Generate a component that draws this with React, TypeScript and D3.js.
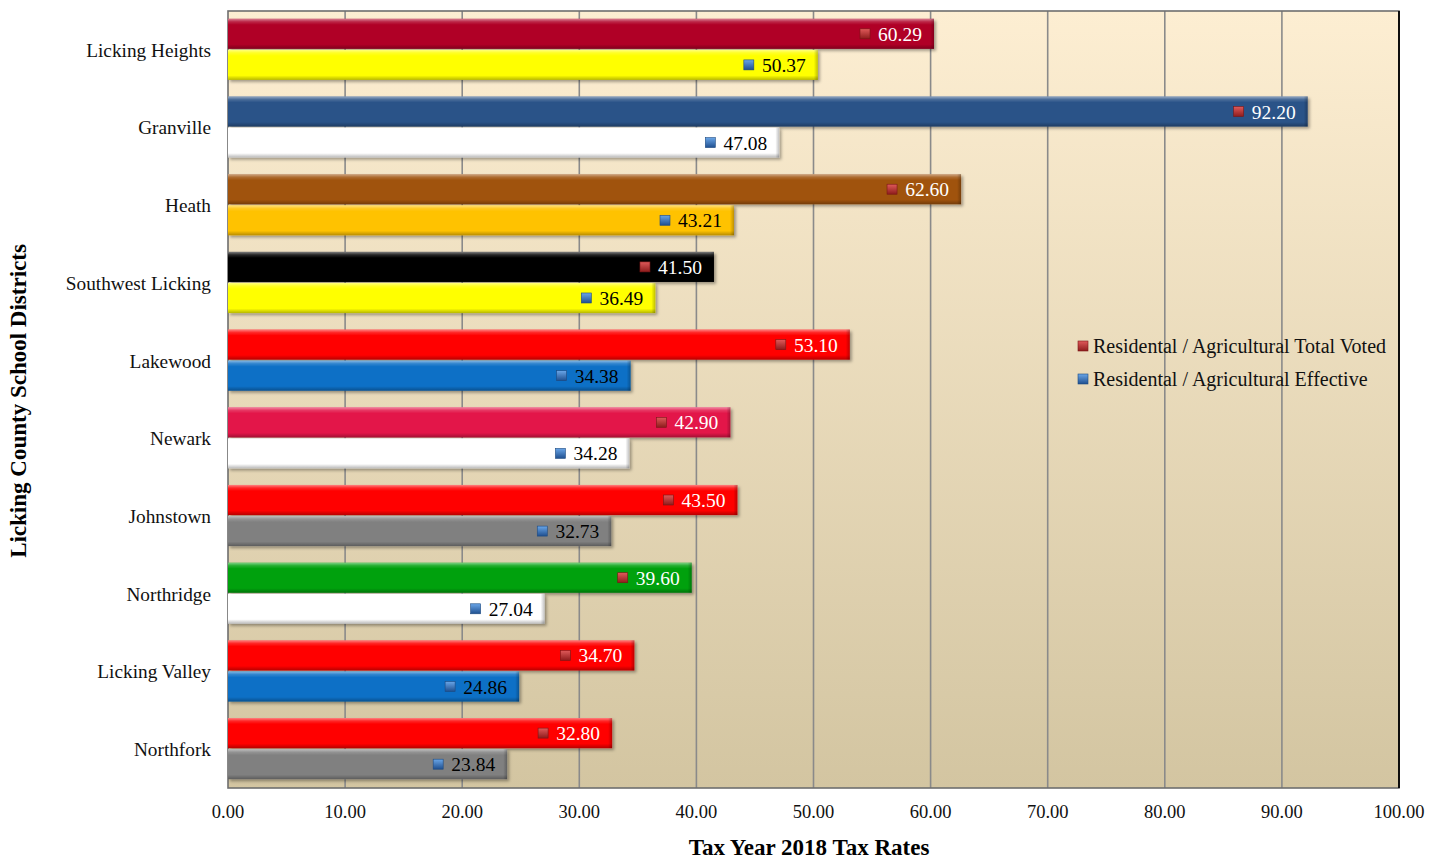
import * as d3 from 'd3'

const DISTRICTS = [
  'Licking Heights',
  'Granville',
  'Heath',
  'Southwest Licking',
  'Lakewood',
  'Newark',
  'Johnstown',
  'Northridge',
  'Licking Valley',
  'Northfork',
]
const TOTAL_VOTED = [60.29, 92.2, 62.6, 41.5, 53.1, 42.9, 43.5, 39.6, 34.7, 32.8]
const EFFECTIVE = [50.37, 47.08, 43.21, 36.49, 34.38, 34.28, 32.73, 27.04, 24.86, 23.84]
const VOTED_COLORS = [
  '#b00428', '#2a5288', '#a0520a', '#050505', '#ff0000',
  '#e3144a', '#ff0000', '#00a10f', '#ff0000', '#ff0000',
]
const EFFECTIVE_COLORS = [
  '#ffff00', '#ffffff', '#ffc200', '#ffff00', '#0a70c6',
  '#ffffff', '#808080', '#ffffff', '#0a70c6', '#808080',
]
const SERIES = ['Residental / Agricultural Total Voted', 'Residental / Agricultural Effective']
const X_TICKS = [0, 10, 20, 30, 40, 50, 60, 70, 80, 90, 100]

const WIDTH = 1440
const HEIGHT = 861
const PLOT = { left: 228, right: 1399, top: 11, bottom: 788 }
const FONT = '"Liberation Serif", "Times New Roman", serif'

export default function App() {
  const x = d3.scaleLinear().domain([0, 100]).range([PLOT.left, PLOT.right])
  const y = d3
    .scaleBand<string>()
    .domain(DISTRICTS)
    .range([PLOT.top, PLOT.bottom])
    .paddingInner(0.2)
    .paddingOuter(0.1)
  const sub = d3
    .scaleBand<string>()
    .domain(['voted', 'effective'])
    .range([0, y.bandwidth()])
  const fmt = d3.format('.2f')
  const labelWidth = 44

  const bar = (key: string, value: number, color: string, district: string, light: boolean) => {
    const top = (y(district) ?? 0) + (sub(key) ?? 0)
    const h = sub.bandwidth() - 1
    const x0 = x(0)
    const x1 = x(value)
    const textEnd = x1 - 12
    const cy = top + h / 2
    return (
      <g key={key + district}>
        <rect x={x0} y={top} width={x1 - x0} height={h} fill={color} filter="url(#shadow)" />
        <rect x={x0} y={top} width={x1 - x0} height={h} fill="url(#bevel)" />
        <rect x={x1 - 4} y={top} width={4} height={h} fill="url(#bevelEnd)" />
        <rect
          x={textEnd - labelWidth - 18}
          y={cy - 5}
          width={10}
          height={10}
          fill={key === 'voted' ? 'url(#markRed)' : 'url(#markBlue)'}
          stroke={key === 'voted' ? '#7a1616' : '#1d4a80'}
          strokeWidth={0.6}
        />
        <text
          x={textEnd}
          y={cy}
          dy="0.36em"
          textAnchor="end"
          fontSize={19.5}
          fill={light ? '#ffffff' : '#000000'}
        >
          {fmt(value)}
        </text>
      </g>
    )
  }

  return (
    <svg
      width={WIDTH}
      height={HEIGHT}
      viewBox={`0 0 ${WIDTH} ${HEIGHT}`}
      style={{ position: 'absolute', left: 0, top: 0, background: '#ffffff' }}
      fontFamily={FONT}
    >
      <defs>
        <linearGradient id="plotBg" x1="0" x2="0" y1="0" y2="1">
          <stop offset="0%" stopColor="#fdeed2" />
          <stop offset="100%" stopColor="#d3c5a1" />
        </linearGradient>
        <linearGradient id="bevel" x1="0" x2="0" y1="0" y2="1">
          <stop offset="0%" stopColor="#ffffff" stopOpacity={0.5} />
          <stop offset="10%" stopColor="#ffffff" stopOpacity={0.15} />
          <stop offset="20%" stopColor="#ffffff" stopOpacity={0} />
          <stop offset="85%" stopColor="#000000" stopOpacity={0} />
          <stop offset="100%" stopColor="#000000" stopOpacity={0.28} />
        </linearGradient>
        <linearGradient id="bevelEnd" x1="0" x2="1" y1="0" y2="0">
          <stop offset="0%" stopColor="#000000" stopOpacity={0} />
          <stop offset="100%" stopColor="#000000" stopOpacity={0.25} />
        </linearGradient>
        <linearGradient id="markRed" x1="0" x2="0" y1="0" y2="1">
          <stop offset="0%" stopColor="#e05a5a" />
          <stop offset="100%" stopColor="#8e1c1c" />
        </linearGradient>
        <linearGradient id="markBlue" x1="0" x2="0" y1="0" y2="1">
          <stop offset="0%" stopColor="#6aa6e8" />
          <stop offset="100%" stopColor="#1f4f8f" />
        </linearGradient>
        <filter id="shadow" x="-5%" y="-20%" width="110%" height="150%">
          <feDropShadow dx="2" dy="2" stdDeviation="1.5" floodColor="#000000" floodOpacity={0.35} />
        </filter>
      </defs>

      <rect
        x={PLOT.left}
        y={PLOT.top}
        width={PLOT.right - PLOT.left}
        height={PLOT.bottom - PLOT.top}
        fill="url(#plotBg)"
      />

      {X_TICKS.filter((t) => t > 0 && t < 100).map((t) => (
        <line
          key={t}
          x1={x(t)}
          x2={x(t)}
          y1={PLOT.top}
          y2={PLOT.bottom}
          stroke="#8a8a8a"
          strokeWidth={1.6}
        />
      ))}

      <rect
        x={PLOT.left}
        y={PLOT.top}
        width={PLOT.right - PLOT.left}
        height={PLOT.bottom - PLOT.top}
        fill="none"
        stroke="#6e6e6e"
        strokeWidth={1.6}
      />
      <line x1={PLOT.right} x2={PLOT.right} y1={PLOT.top} y2={PLOT.bottom} stroke="#000000" strokeWidth={1.8} />

      {DISTRICTS.map((d, i) => (
        <g key={d}>
          {bar('voted', TOTAL_VOTED[i], VOTED_COLORS[i], d, true)}
          {bar('effective', EFFECTIVE[i], EFFECTIVE_COLORS[i], d, false)}
          <text
            x={211}
            y={(y(d) ?? 0) + y.bandwidth() / 2}
            dy="0.36em"
            textAnchor="end"
            fontSize={19.3}
            fill="#111111"
          >
            {d}
          </text>
        </g>
      ))}

      {X_TICKS.map((t) => (
        <text key={t} x={x(t)} y={811} dy="0.36em" textAnchor="middle" fontSize={18.5} fill="#111111">
          {fmt(t)}
        </text>
      ))}

      <text x={809} y={847} dy="0.36em" textAnchor="middle" fontSize={23} fontWeight="bold" fill="#000000">
        Tax Year 2018 Tax Rates
      </text>
      <text
        transform={`translate(18 ${401}) rotate(-90)`}
        dy="0.36em"
        textAnchor="middle"
        fontSize={23}
        fontWeight="bold"
        fill="#000000"
      >
        Licking County School Districts
      </text>

      {SERIES.map((s, i) => (
        <g key={s} transform={`translate(1078 ${346 + i * 33})`}>
          <rect
            x={0}
            y={-5}
            width={10}
            height={10}
            fill={i === 0 ? 'url(#markRed)' : 'url(#markBlue)'}
            stroke={i === 0 ? '#7a1616' : '#1d4a80'}
            strokeWidth={0.6}
          />
          <text x={15} y={0} dy="0.36em" fontSize={20} fill="#111111">
            {s}
          </text>
        </g>
      ))}
    </svg>
  )
}
